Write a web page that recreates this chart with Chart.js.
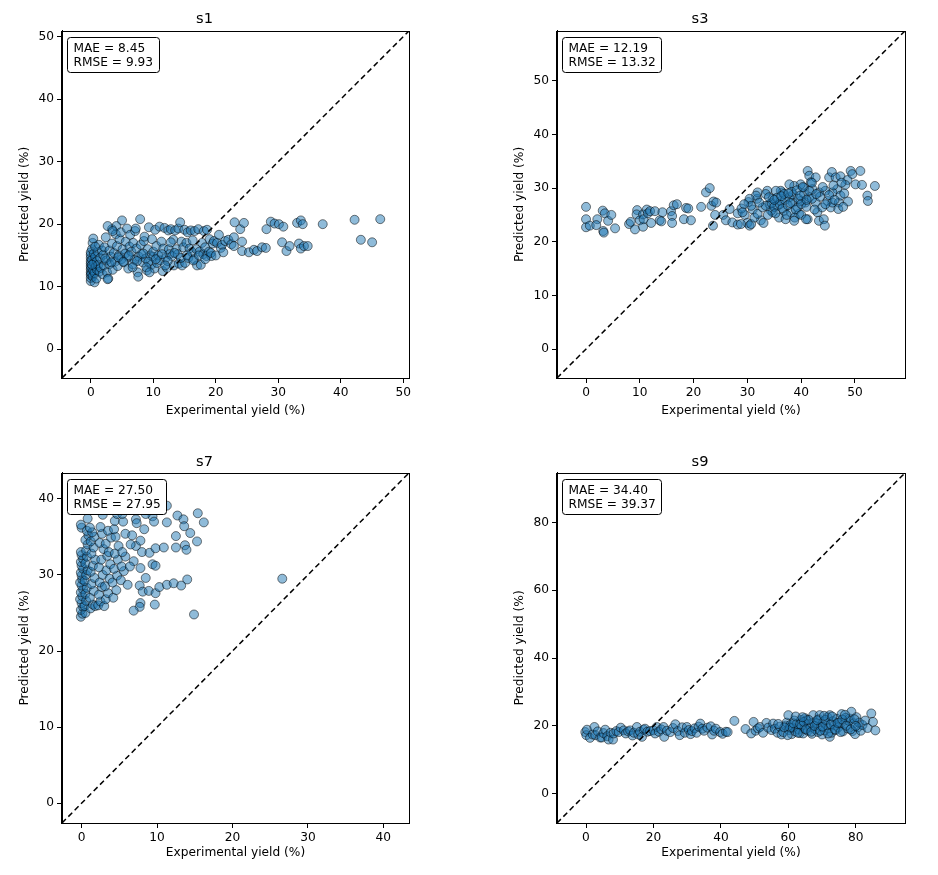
<!DOCTYPE html>
<html>
<head>
<meta charset="utf-8">
<title>Parity plots</title>
<script src="https://cdn.jsdelivr.net/npm/chart.js"></script>
<style>
  body { margin: 0; width: 938px; height: 875px; overflow: hidden; background: #fff; }
  canvas { position: absolute; }
</style>
</head>
<body>
<canvas id="c1" width="469" height="437" style="left:0;top:0"></canvas>
<canvas id="c2" width="469" height="437" style="left:469px;top:0"></canvas>
<canvas id="c3" width="469" height="438" style="left:0;top:437px"></canvas>
<canvas id="c4" width="469" height="438" style="left:469px;top:437px"></canvas>
<script>
// axis limits (same on x and y, the dashed line runs corner to corner)
var s1Lim = [-4.6, 50.9];
var s3Lim = [-5.4, 59.3];
var s7Lim = [-2.6, 43.4];
var s9Lim = [-8.6, 94.6];

var s1Metrics = ['MAE = 8.45', 'RMSE = 9.93'];
var s3Metrics = ['MAE = 12.19', 'RMSE = 13.32'];
var s7Metrics = ['MAE = 27.50', 'RMSE = 27.95'];
var s9Metrics = ['MAE = 34.40', 'RMSE = 39.37'];

// [experimental, predicted]
var s1Pts = [
  [0,10.9],[0,11.4],[0,11.9],[0,12.3],[0,12.8],[0,13.3],[0,13.7],[0,14.1],[0,14.6],[0,15.1],[0,15.5],
  [0.1,12.1],[0.1,13.0],[0.2,14.3],[0.2,16.0],[0.3,17.0],[0.3,11.6],[0.4,12.6],[0.4,17.7],[0.5,13.8],
  [0.5,15.3],[0.6,10.7],[0.6,12.2],[0.7,14.8],[0.8,13.2],[0.9,11.3],[1.0,12.7],[1.0,14.1],[1.1,15.6],
  [1.2,13.5],[1.3,16.7],[1.4,12.4],[1.5,14.6],[1.6,13.0],[0.2,13.5],[0.7,16.4],[1.8,15.8],[1.9,12.0],
  [2.0,15.1],[2.1,13.4],[2.2,16.3],[2.4,17.9],[2.5,14.2],[2.6,12.3],[2.8,11.3],[3.0,15.8],[3.0,13.6],
  [3.2,14.8],[3.4,16.9],[3.4,19.2],[3.5,12.7],[3.7,15.4],[3.9,14.0],[4.0,18.4],[4.1,19.7],[4.2,16.5],
  [4.3,13.3],[4.5,15.0],[4.6,17.6],[4.8,18.7],[4.9,14.4],[5.0,20.6],[5.1,16.0],[5.3,13.9],[5.5,15.3],
  [5.6,17.2],[5.8,19.3],[6.0,14.8],[6.0,12.9],[6.2,16.4],[6.3,18.3],[6.5,15.6],[2.7,19.7],[3.5,18.9],
  [6.7,13.6],[6.8,17.0],[7.0,14.3],[7.1,18.9],[7.2,19.3],[7.3,16.1],[7.5,12.3],[7.6,11.6],[7.7,14.8],
  [7.9,20.8],[8.0,16.7],[8.1,15.2],[8.3,13.9],[8.5,17.3],[8.6,18.0],[8.8,14.5],[9.0,12.6],[9.1,16.0],
  [9.3,19.5],[9.5,15.0],[9.7,13.5],[9.8,17.6],[10.0,14.8],[10.0,15.6],[10.2,12.9],[10.3,19.1],[10.5,16.5],
  [10.6,13.8],[10.8,15.0],[11.0,19.6],[11.1,14.2],[11.3,17.2],[11.5,12.5],[11.6,16.1],[11.8,19.4],[12.0,14.6],
  [12.2,13.0],[12.4,19.0],[12.5,16.0],[12.6,15.2],[12.8,19.2],[13.0,14.9],[13.2,17.5],[13.3,13.4],[13.5,19.0],
  [13.7,16.0],[13.9,15.2],[14.0,19.3],[14.1,13.7],[14.3,20.3],[14.5,17.2],[14.6,13.4],[14.8,16.3],[15.0,19.1],
  [15.1,13.8],[15.3,17.0],[15.5,18.7],[15.6,14.6],[15.8,16.1],[16.0,19.0],[16.2,15.5],[16.3,17.4],[16.5,14.4],
  [16.6,18.9],[16.9,16.0],[17.0,13.4],[17.2,19.2],[17.4,15.6],[17.6,13.5],[17.8,17.0],[18.0,15.2],[18.1,18.9],
  [18.3,16.3],[18.5,14.9],[18.6,19.1],[18.9,15.6],[19.0,17.6],[19.3,14.9],[19.5,16.9],[19.7,17.3],
  [2.3,14.5],[3.3,13.9],[4.4,14.7],[5.2,14.0],[6.1,15.0],[7.4,14.1],[8.4,15.3],[9.2,14.0],[10.4,14.4],
  [11.4,15.2],[12.3,14.1],[13.4,15.4],[14.4,14.6],[15.4,15.0],[16.4,14.2],[17.3,15.0],[18.3,14.4],[19.2,15.4],
  [11.9,13.4],[8.9,13.1],[2.7,11.2],[6.7,13.1],[9.4,12.3],[12.8,17.1],
  [20.0,15.0],[20.2,17.0],[20.5,18.3],[20.8,16.2],[21.0,16.7],[21.2,15.5],[21.5,17.3],[22.0,17.5],[22.5,16.8],
  [22.9,17.9],[22.9,16.5],[23.0,20.3],[23.9,19.2],[24.5,20.2],[24.2,17.2],[24.2,15.7],[25.3,15.5],[26.1,15.9],
  [26.6,15.7],[27.4,16.3],[28.0,16.2],[28.8,20.4],[29.4,20.1],[30.1,20.0],[30.8,19.6],[28.1,19.2],[30.6,17.1],
  [31.3,15.7],[31.8,16.5],[33.3,16.9],[33.6,16.1],[34.1,16.5],[34.7,16.5],[33.0,20.2],[33.6,20.6],[33.9,20.0],
  [37.1,20.0],[42.2,20.7],[46.3,20.8],[43.2,17.5],[45.0,17.1]
];

var s3Pts = [
  [0,26.5],[0,24.2],[0,22.7],[0.7,23.0],[2.1,24.2],[1.9,23.1],[3.1,25.8],[3.5,25.3],[3.2,22.0],[3.3,21.7],
  [4.1,23.9],[4.7,25.0],[5.4,22.5],[8.0,23.3],[8.3,23.7],[9.1,22.3],[9.5,25.9],[9.4,25.1],[10.0,24.0],
  [10.6,22.8],[10.6,25.1],[10.7,24.2],[11.3,26.0],[11.5,25.3],[11.9,25.7],[12.1,23.5],[12.8,25.7],[13.7,24.0],
  [14.0,23.8],[14.2,25.5],[15.8,25.7],[16.0,24.8],[16.0,23.5],[16.3,26.8],[16.9,27.0],[18.2,24.2],[18.6,26.3],
  [19.0,26.2],[19.5,24.0],[21.4,26.5],[22.3,29.2],[23.0,30.0],[23.3,26.7],[23.7,27.5],[24.2,27.3],[23.6,23.0],
  [24.0,25.0],[25.5,25.0],[26.7,26.1],[26.0,24.0],[27.2,23.6],[28.2,25.3],[28.2,23.2],
  [29.5,25.0],[30.0,23.5],[31.0,26.0],[32.5,24.0],[33.0,23.5],[30.2,27.4],[31.8,28.0],[28.9,26.2],[30.4,23.0],
  [41.2,33.2],[41.5,32.3],[41.8,31.1],[42.7,32.0],[45.2,32.0],[45.7,33.0],[46.4,32.0],[47.3,32.2],[49.2,33.2],
  [49.5,32.6],[51.0,33.2],[50.1,30.7],[51.3,30.6],[53.7,30.4],[52.3,28.6],[52.4,27.6],[48.6,31.5],[48.2,30.6],
  [46.7,29.8],[45.8,29.2],[44.5,29.5],[43.3,29.2],[42.1,29.8],[40.5,30.1],[39.9,30.7],[38.7,30.4],[37.8,30.7],
  [36.5,29.2],[36.2,29.5],[35.3,29.5],[33.7,29.5],[33.4,28.9],[31.9,29.2],[31.6,28.6],[30.4,28.0],[30.7,26.7],
  [29.4,27.0],[29.1,25.5],[28.8,23.3],[30.7,23.3],[31.3,24.5],[31.9,25.2],[32.8,26.4],[34.1,27.0],[34.7,28.0],
  [34.7,25.5],[35.6,26.7],[35.9,24.5],[37.1,24.2],[36.8,25.8],[38.1,25.5],[38.4,27.3],[39.6,25.2],[39.3,26.4],
  [40.8,27.3],[41.2,24.2],[41.5,28.3],[42.7,27.3],[43.0,25.5],[43.3,23.9],[44.2,24.2],[44.4,23.0],[43.9,26.4],
  [44.9,27.6],[45.5,26.4],[45.8,27.3],[47.0,27.3],[47.3,28.6],[46.9,26.1],[45.2,28.7],[39.9,27.6],[37.8,28.3],
  [36.2,27.6],[34.4,25.8],[33.4,26.7],[32.2,27.3],
  [34.5,27.2],[35.0,26.5],[35.5,28.2],[36.0,27.0],[36.5,26.2],[37.0,27.8],[37.5,26.8],[38.0,27.2],[38.5,28.8],
  [39.0,26.0],[39.5,28.0],[40.0,27.0],[40.5,29.0],[41.0,26.5],[41.5,29.5],[42.0,28.0],[36.8,28.9],[38.2,29.3],
  [39.2,29.6],[40.3,30.2],[35.2,25.3],[33.8,25.0],[34.0,28.3],[37.3,25.0],[38.8,24.5],[40.0,25.0],[42.5,26.0],
  [43.5,28.4],[44.0,30.2],[42.0,31.0],[46.0,30.5],[47.5,31.0],[48.0,29.0],[48.7,27.5],[47.8,26.5],[46.2,27.8],
  [38.7,23.9],[40.9,24.2],[35.0,27.8],[36.3,28.5],[37.6,29.0],[39.8,28.6],[41.0,27.8],[42.8,28.9],[44.5,27.0]
];

var s7Pts = [
  [-0.1,24.5],[0.1,24.9],[-0.1,25.4],[0.2,25.8],[0,26.3],[-0.2,26.8],[0.1,27.2],[-0.1,27.7],[0.2,28.1],[0,28.6],
  [-0.2,29.0],[0.1,29.4],[0,29.9],[-0.1,30.3],[0.2,30.8],[0,31.2],[-0.1,31.7],[0.2,32.1],[0,32.6],[-0.1,33.0],
  [0,36.2],[-0.1,36.6],
  [0.5,25.0],[0.4,25.9],[0.6,26.6],[0.5,27.5],[0.7,28.3],[0.4,29.2],[0.6,30.0],[0.8,30.6],[0.5,31.5],[0.7,32.4],
  [0.6,33.2],[0.8,34.0],[0.5,34.6],[0.9,35.2],[0.7,35.8],[0.8,37.4],
  [1.2,25.6],[1.5,26.1],[1.1,27.0],[1.6,27.9],[1.3,28.8],[1.7,29.6],[1.2,30.4],[1.5,31.2],[1.8,32.0],[1.3,32.8],
  [1.6,33.6],[1.2,34.4],[1.7,35.0],[1.4,35.6],[1.1,36.2],[1.8,25.9],
  [2.2,26.0],[2.5,26.5],[2.3,27.4],[2.7,28.4],[2.4,29.0],[2.8,30.0],[2.3,31.0],[2.6,32.0],[2.9,33.4],[2.4,34.2],
  [2.7,35.4],[2.5,36.3],[2.8,37.9],
  [3.0,25.9],[3.2,26.8],[3.5,27.6],[3.1,28.5],[3.7,29.5],[3.3,30.6],[3.8,31.4],[3.4,32.5],[3.6,33.0],[3.2,34.1],
  [3.9,34.9],[3.5,35.8],
  [4.2,27.0],[4.6,28.0],[4.1,29.0],[4.7,29.9],[4.3,30.8],[4.8,32.0],[4.4,32.8],[4.9,33.8],[4.5,35.0],[4.3,36.0],
  [4.4,37.1],[4.7,38.0],
  [5.2,29.3],[5.6,30.5],[5.3,31.1],[5.8,32.4],[5.4,33.0],[5.8,35.4],[5.5,37.0],[5.4,38.0],
  [6.1,28.7],[6.9,31.8],[6.4,31.1],[7.2,33.8],[6.7,35.2],[7.8,34.5],[7.2,37.3],[7.3,36.8],[8.0,33.0],[7.8,30.9],
  [7.7,28.6],[8.1,27.8],[7.8,26.3],[7.7,25.8],[6.9,25.3],[6.5,34.0],
  [9.4,37.7],[9.6,37.0],[8.3,36.0],[9.0,32.9],[9.8,33.5],[9.4,31.4],[9.8,31.2],[8.5,29.6],[8.9,27.9],[9.8,27.6],
  [9.7,26.1],[8.5,38.0],
  [11.3,39.1],[11.3,36.9],[12.7,37.8],[13.5,37.3],[13.6,36.4],[14.4,35.5],[15.4,38.1],[16.2,36.9],[12.5,35.1],
  [15.3,34.4],[10.9,33.6],[12.5,33.6],[13.7,33.9],[10.3,28.4],[11.3,28.7],[12.2,28.9],[13.2,28.6],[14.0,29.4],
  [14.9,24.8],[13.9,33.3],[26.6,29.5]
];

var s9Pts = [
  [-0.2,18.2],[0.1,17.3],[0.3,18.9],[1.2,16.5],[2.0,17.5],[2.5,19.7],[2.8,17.3],[3.5,18.4],[4.2,16.6],[4.7,16.6],
  [5.2,17.9],[5.7,18.9],[6.3,17.0],[6.7,16.0],[7.3,18.0],[8.0,16.0],[8.2,17.8],[9.0,18.5],[9.7,18.2],[10.3,19.5],
  [11.2,18.7],[11.8,17.8],[12.5,18.4],[13.1,18.7],[13.8,17.2],[14.2,18.0],[15.1,19.7],[15.5,17.5],[16.0,18.3],
  [16.6,16.8],[17.1,18.9],[17.5,19.2],[18.2,18.3],[19.0,18.5],[20.0,18.7],[20.5,17.8],[21.0,19.7],[21.6,18.3],
  [22.3,19.0],[23.0,19.7],[23.2,16.8],[24.0,18.6],[25.0,18.2],[25.8,19.4],[26.5,20.5],[27.2,18.5],[27.8,17.3],
  [28.5,19.6],[29.3,18.0],[29.9,19.7],[30.5,18.8],[31.0,17.6],[31.4,18.5],[32.2,19.3],[32.8,18.0],[33.4,19.8],
  [33.9,20.7],[34.5,19.2],[35.0,18.6],[36.0,19.5],[37.0,19.9],[37.4,17.5],[38.0,18.6],[38.5,19.2],[39.8,18.2],
  [40.5,17.7],[41.5,18.3],[42.0,18.2],[44.0,21.5],
  [47.3,19.1],[49.0,17.8],[49.7,21.2],[50.3,18.6],[51.0,19.3],[51.6,19.7],[52.5,18.0],[53.5,20.9],[54.0,19.5],
  [55.0,18.8],[55.5,20.7],[56.0,19.2],[56.8,18.0],[57.5,19.8],[58.0,17.5],[58.5,18.2],[59.2,20.1],[59.5,21.0],
  [60.0,23.2],[60.2,18.8],[60.6,20.3],[61.0,17.6],[61.3,19.5],[61.8,21.6],[62.0,18.4],[62.5,20.6],[63.0,19.0],
  [63.4,17.9],[63.8,21.8],[64.0,20.0],[64.4,17.8],[64.8,19.2],[65.0,22.3],[65.4,21.7],[65.8,18.6],[66.2,20.5],
  [66.6,19.6],[67.0,17.7],[67.4,23.2],[67.6,21.0],[68.0,19.0],[68.4,20.8],[68.8,18.2],[69.0,22.0],[69.3,23.2],
  [69.7,19.8],[70.0,17.5],[70.4,21.3],[70.8,18.7],[71.2,20.2],[71.6,22.6],[72.0,19.3],[72.3,23.2],[72.3,16.8],
  [72.8,18.0],[73.2,21.4],[73.6,20.2],[74.0,18.8],[74.4,22.1],[74.8,19.6],[75.2,21.0],[75.8,23.5],[76.2,18.4],
  [76.6,20.6],[77.0,22.4],[77.5,19.3],[78.0,21.5],[78.2,22.2],[78.7,24.2],[79.0,18.5],[79.4,20.8],[79.8,17.6],
  [80.2,22.6],[80.6,19.6],[81.0,21.0],[81.5,18.6],[82.0,20.3],[82.8,21.6],[83.5,19.4],[84.6,23.7],[85.1,21.2],
  [85.8,18.7],
  [60.5,19.5],[61.5,20.8],[62.8,18.0],[63.5,20.5],[64.6,21.2],[65.2,19.0],[66.0,21.8],[66.8,18.3],[67.8,20.0],
  [68.6,21.7],[69.5,18.6],[70.2,19.8],[71.0,21.8],[71.8,17.8],[72.6,20.5],[73.8,19.0],[74.6,20.9],[75.5,18.2],
  [76.0,21.9],[77.2,20.1],[78.5,19.0],[79.6,22.0],[80.0,20.0],[62.2,22.8],[64.2,22.6],[70.6,23.0],[76.8,23.3],
  [73.0,22.8],[58.8,19.6],[57.0,20.6],[59.8,17.3]
];

var fontPx = 12.2;
Chart.defaults.font.family = '"DejaVu Sans", sans-serif';
Chart.defaults.font.size = fontPx;
Chart.defaults.color = '#000';

// spines on all four sides plus the metrics text box
var frameBox = {
  id: 'frameBox',
  afterDatasetsDraw: function(chart, args, opts) {
    var a = chart.chartArea, ctx = chart.ctx;
    ctx.save();
    ctx.strokeStyle = '#000';
    ctx.lineWidth = 1;
    ctx.strokeRect(Math.round(a.left) - 0.5, Math.round(a.top) + 0.5,
      Math.round(a.right - a.left) + 1, Math.round(a.bottom - a.top));
    ctx.font = fontPx + 'px "DejaVu Sans"';
    var w = 0;
    opts.lines.forEach(function(l) { w = Math.max(w, ctx.measureText(l).width); });
    var bx = Math.round(a.left) + 5.5, by = Math.round(a.top) + 6.5;
    ctx.beginPath();
    ctx.roundRect(bx, by, Math.round(w + 12), 35, 3);
    ctx.fillStyle = '#fff';
    ctx.fill();
    ctx.stroke();
    ctx.fillStyle = '#000';
    ctx.textBaseline = 'middle';
    opts.lines.forEach(function(l, i) { ctx.fillText(l, bx + 6, by + 11 + i * 14); });
    ctx.restore();
  }
};

function makePanel(id, name, pts, lim, step, lines, lay) {
  new Chart(document.getElementById(id), {
    type: 'scatter',
    data: {
      datasets: [
        {
          type: 'line',
          data: [{x: lim[0], y: lim[0]}, {x: lim[1], y: lim[1]}],
          showLine: true,
          borderColor: '#000',
          borderWidth: 1.5,
          borderDash: [5.5, 3.5],
          pointRadius: 0
        },
        {
          data: pts.map(function(p) { return {x: p[0], y: p[1]}; }),
          backgroundColor: 'rgba(31,119,180,0.5)',
          borderColor: 'rgba(0,0,0,0.5)',
          borderWidth: 1,
          pointRadius: 4.5
        }
      ]
    },
    options: {
      responsive: false,
      animation: false,
      layout: { padding: { left: lay.left, right: lay.right, top: 0, bottom: 0 } },
      plugins: {
        legend: { display: false },
        tooltip: { enabled: false },
        title: {
          display: true, text: name, color: '#000',
          font: { size: 14.6, weight: 'normal' },
          padding: { top: lay.tTop, bottom: lay.tBot }
        },
        frameBox: { lines: lines }
      },
      scales: {
        x: {
          type: 'linear', min: lim[0], max: lim[1],
          afterFit: function(s) { s.height = lay.xh; },
          ticks: { stepSize: step, includeBounds: false, padding: 3 },
          grid: { drawOnChartArea: false, tickLength: 5, color: '#000' },
          border: { color: '#000' },
          title: { display: true, text: 'Experimental yield (%)', padding: { top: 0, bottom: lay.xt } }
        },
        y: {
          type: 'linear', min: lim[0], max: lim[1],
          afterFit: function(s) { s.width = 62; },
          ticks: { stepSize: step, includeBounds: false, padding: 3 },
          grid: { drawOnChartArea: false, tickLength: 5, color: '#000' },
          border: { color: '#000' },
          title: { display: true, text: 'Predicted yield (%)', padding: { top: 17.7, bottom: 0 } }
        }
      }
    },
    plugins: [frameBox]
  });
}

var topLay = { tTop: 10.2, tBot: 3.2, xh: 59, xt: 19.0 };
var botLay = { tTop: 16.2, tBot: 2.2, xh: 52, xt: 14.7 };

makePanel('c1', 's1', s1Pts, s1Lim, 10, s1Metrics, Object.assign({ left: 0, right: 60 }, topLay));
makePanel('c2', 's3', s3Pts, s3Lim, 10, s3Metrics, Object.assign({ left: 26, right: 33 }, topLay));
makePanel('c3', 's7', s7Pts, s7Lim, 10, s7Metrics, Object.assign({ left: 0, right: 60 }, botLay));
makePanel('c4', 's9', s9Pts, s9Lim, 20, s9Metrics, Object.assign({ left: 26, right: 33 }, botLay));
</script>
</body>
</html>
